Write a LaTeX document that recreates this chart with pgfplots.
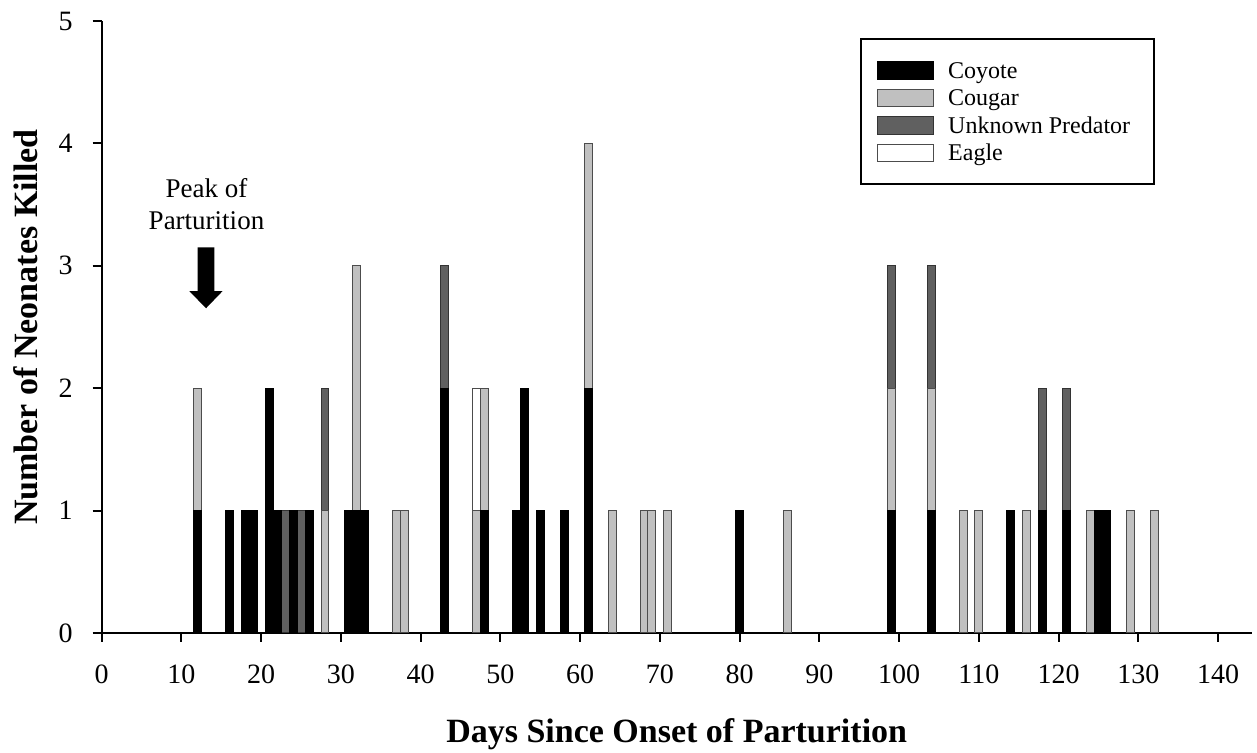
\documentclass[border=0pt]{standalone}
\usepackage{fontspec}
\setmainfont{Liberation Serif}
\usepackage{pgfplots}
\usepackage{pgfplotstable}
\pgfplotsset{compat=1.18}
\definecolor{cougar}{HTML}{C0C0C0}
\definecolor{unk}{HTML}{606060}

\pgfplotstableread{
day coyote cougar unknown eagle
12 1 1 0 0
16 1 0 0 0
18 1 0 0 0
19 1 0 0 0
21 2 0 0 0
22 1 0 0 0
23 0 0 1 0
24 1 0 0 0
25 0 0 1 0
26 1 0 0 0
28 0 1 1 0
31 1 0 0 0
32 1 2 0 0
33 1 0 0 0
37 0 1 0 0
38 0 1 0 0
43 2 0 1 0
47 0 1 0 1
48 1 1 0 0
52 1 0 0 0
53 2 0 0 0
55 1 0 0 0
58 1 0 0 0
61 2 2 0 0
64 0 1 0 0
68 0 1 0 0
69 0 1 0 0
71 0 1 0 0
80 1 0 0 0
86 0 1 0 0
99 1 1 1 0
104 1 1 1 0
108 0 1 0 0
110 0 1 0 0
114 1 0 0 0
116 0 1 0 0
118 1 0 1 0
121 1 0 1 0
124 0 1 0 0
125 1 0 0 0
126 1 0 0 0
129 0 1 0 0
132 0 1 0 0
}\data

\begin{document}
\begin{tikzpicture}
\begin{axis}[
  scale only axis, width=575pt, height=306pt,
  xmin=0, xmax=144.2, ymin=0, ymax=5,
  ybar stacked, bar width=1,
  axis lines=left,
  axis line style={-, line width=1pt},
  xtick={0,10,...,140}, ytick={0,1,...,5},
  tick align=outside, major tick length=4.5pt,
  tick style={line width=1pt, black},
  ticklabel style={font=\fontsize{14}{16}\selectfont},
  xticklabel style={yshift=-8pt},
  yticklabel style={xshift=-6.5pt},
  /pgf/number format/assume math mode=true,
  xlabel={Days Since Onset of Parturition},
  ylabel={Number of Neonates Killed},
  label style={font=\bfseries\fontsize{17}{20}\selectfont},
  xlabel style={at={(axis description cs:0.5,-0.1795)}, anchor=base},
  ylabel style={at={(axis description cs:-0.05626,0.5)}, anchor=base},
  legend style={at={(0.6594,0.9717)}, anchor=north west, draw=black, line width=1pt,
    inner xsep=8.2pt, inner ysep=8.7pt, font=\fontsize{12}{14}\selectfont,
    nodes={inner sep=0pt, text height=10.8pt, text depth=2.95pt},
    cells={anchor=west}, row sep=0pt, column sep=6.9pt},
  legend cell align=left,
  legend image code/.code={\draw[#1, line width=0.5pt] (0pt,-4.4pt) rectangle (28pt,4.4pt);},
]
\addplot[fill=black, draw=black, line width=0.5pt] table[x=day, y=coyote] {\data};
\addplot[fill=cougar, draw=black!70, line width=0.5pt] table[x=day, y=cougar] {\data};
\addplot[fill=unk, draw=black!80, line width=0.5pt] table[x=day, y=unknown] {\data};
\addplot[fill=white, draw=black!70, line width=0.5pt] table[x=day, y=eagle] {\data};
\legend{\makebox[94.5pt][l]{Coyote}, \makebox[94.5pt][l]{Cougar}, \makebox[94.5pt][l]{Unknown Predator}, \makebox[94.5pt][l]{Eagle}}

\fill[black] (axis cs:12.04,3.151) -- (axis cs:14.12,3.151) -- (axis cs:14.12,2.794)
  -- (axis cs:15.17,2.794) -- (axis cs:13.08,2.653) -- (axis cs:10.98,2.794)
  -- (axis cs:12.04,2.794) -- cycle;
\node[anchor=base, inner sep=0pt, font=\fontsize{13.5}{16}\selectfont] at (axis cs:13.14,3.562) {Peak of};
\node[anchor=base, inner sep=0pt, font=\fontsize{13.5}{16}\selectfont] at (axis cs:13.14,3.298) {Parturition};
\end{axis}
\pgfresetboundingbox
\path[use as bounding box] ([xshift=-50.85pt,yshift=-60pt]current axis.south west) rectangle ([xshift=2.65pt,yshift=10.5pt]current axis.north east);
\end{tikzpicture}
\end{document}
